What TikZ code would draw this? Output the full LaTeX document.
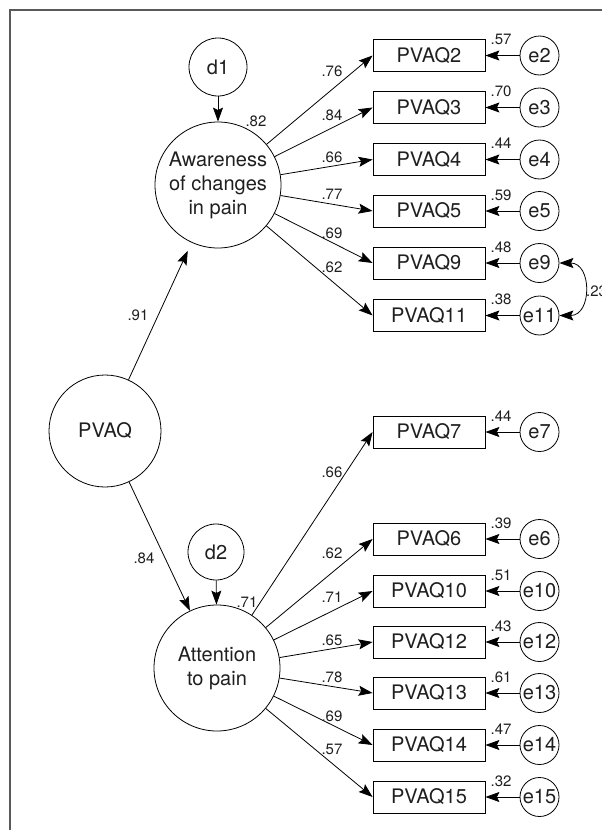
\documentclass[tikz,border=0pt]{standalone}
\usepackage{fontspec}
\setmainfont{TeX Gyre Heros}
\usetikzlibrary{arrows.meta}
\begin{document}
\begin{tikzpicture}[x=1pt,y=-1pt,
  every node/.style={text=black!88},
  latent/.style={draw, circle, inner sep=0pt, line width=0.8pt, font=\fontsize{20}{24}\selectfont, align=center},
  obs/.style={draw, rectangle, minimum width=112pt, minimum height=32pt, inner sep=0pt, line width=0.8pt, font=\fontsize{20}{24}\selectfont},
  err/.style={draw, circle, minimum size=39pt, inner sep=0pt, line width=0.8pt, font=\fontsize{20}{24}\selectfont},
  lbl/.style={font=\fontsize{15}{17}\selectfont, inner sep=0pt},
  tip/.style={Stealth[length=14pt,width=10pt,inset=2.5pt]},
  arr/.style={-{Stealth[length=14pt,width=10pt,inset=2.5pt]}, line width=0.8pt},
  darr/.style={{Stealth[length=14pt,width=10pt,inset=2.5pt]}-{Stealth[length=14pt,width=10pt,inset=2.5pt]}, line width=0.8pt},
]
\useasboundingbox (0,0) rectangle (602,830);
\clip (0,0) rectangle (602,830);
\draw[black!65, line width=1.2pt] (10,10) rectangle (650,880);

% latent variables
\node[latent, minimum size=58pt] (d1) at (218,67) {d1};
\node[latent, minimum size=126pt] (aw) at (218,185) {Awareness\\of changes\\in pain};
\node[latent, minimum size=112pt] (pvaq) at (105,431) {PVAQ};
\node[latent, minimum size=56pt] (d2) at (216,552) {d2};
\node[latent, minimum size=126pt] (att) at (217,668) {Attention\\to pain};

% observed variables and errors
\foreach \n/\y/\r in {2/55.5/.57, 3/107.5/.70, 4/159.5/.44, 5/211/.59, 9/263/.48, 11/315.5/.38,
                      7/432/.44, 6/539/.39, 10/591/.51, 12/642/.43, 13/693/.61, 14/745/.47, 15/797/.32}{
  \node[obs] (q\n) at (429,\y) {PVAQ\n};
  \node[err] (e\n) at (539.5,\y) {e\n};
  \draw[arr] (e\n) -- (q\n);
  \node[lbl] (r\n) at (501,\y-16) {\r};
}

% structural paths
\draw[arr] (d1) -- (aw);
\draw[arr] (d2) -- (att);
\draw[arr, shorten >=9pt] (pvaq) -- (aw);
\draw[arr] (pvaq) -- (att);
\node[lbl] (s91) at (138,315) {.91};
\node[lbl] (s84) at (144,558) {.84};
\node[lbl] (s82) at (256,121) {.82};
\node[lbl] (s71) at (247,602) {.71};

% loadings
\foreach \n/\ly/\v in {2/71/.76, 3/115/.84, 4/157/.66, 5/194/.77, 9/233/.69, 11/267/.62}{
  \draw[arr] (aw) -- (q\n.west);
  \node[lbl] (l\n) at (332,\ly) {\v};
}
\foreach \n/\ly/\v in {7/472/.66, 6/553/.62, 10/597/.71, 12/640/.65, 13/677/.78, 14/716/.69, 15/749/.57}{
  \draw[arr] (att) -- (q\n.west);
  \node[lbl] (l\n) at (332,\ly) {\v};
}

% correlated errors
\draw[darr] (e9.east) to[out=0, in=0, looseness=1.6] (e11.east);
\node[lbl, anchor=west] (c23) at (586,291) {.23};
\end{tikzpicture}
\end{document}
